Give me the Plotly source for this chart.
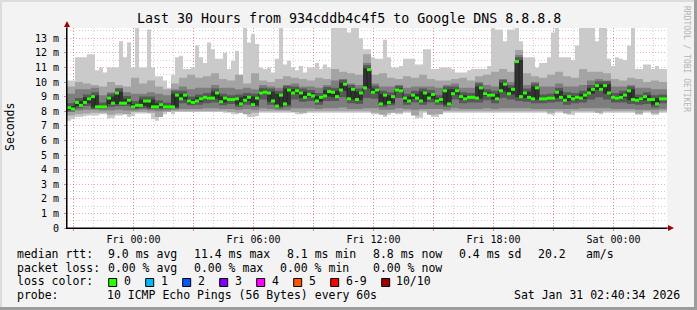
import plotly.graph_objects as go
from datetime import datetime, timedelta

# ---------------- data ----------------
START = "2026-01-29 20:40:34"
SPAN_MIN = 1800  # 30 hours

# median rtt (ms), 150 steps of 12 min
median = [8.25, 8.15, 8.6, 8.4, 8.6, 8.85, 9.0, 8.3, 8.3, 8.3,
          8.9, 8.55, 9.25, 8.55, 8.55, 8.75, 8.3, 8.4, 8.4, 8.7,
          8.7, 8.3, 8.3, 8.45, 8.3, 8.3, 8.3, 9.1, 8.85, 9.1,
          8.7, 8.6, 8.7, 8.85, 8.95, 8.9, 8.9, 9.25, 8.65, 8.9,
          8.8, 8.8, 8.85, 8.5, 8.75, 8.95, 8.45, 8.9, 9.25, 9.3,
          9.25, 8.7, 8.35, 9.1, 8.5, 9.45, 9.25, 9.4, 9.25, 8.95,
          9.15, 9.05, 8.7, 8.95, 9.05, 9.35, 9.3, 9.0, 9.45, 9.85,
          8.85, 9.5, 8.8, 9.25, 9.6, 10.85, 9.3, 9.45, 8.5, 9.1,
          8.6, 9.0, 9.45, 9.4, 8.9, 8.7, 9.1, 8.9, 8.7, 9.25,
          8.9, 9.15, 8.7, 8.8, 9.4, 8.5, 9.2, 9.4, 9.0, 8.85,
          8.95, 8.95, 8.9, 9.6, 9.2, 9.1, 9.1, 8.85, 9.4, 9.85,
          9.2, 9.5, 11.4, 9.0, 9.25, 8.95, 8.85, 9.6, 8.85, 8.85,
          8.9, 8.9, 9.3, 8.95, 8.75, 9.0, 8.85, 8.95, 8.9, 9.1,
          9.25, 9.5, 9.75, 9.5, 9.75, 9.25, 8.95, 8.9, 8.95, 9.1,
          9.4, 8.8, 8.75, 8.85, 9.0, 8.8, 8.8, 8.5, 8.85, 8.85]

# slowest ping (ms), 150 steps
ping_max = [10.1, 10.1, 11.7, 11.7, 11.7, 11.9, 11.9, 10.8, 11.0, 10.65,
            11.0, 11.0, 11.0, 12.8, 11.7, 12.7, 11.0, 13.75, 11.0, 11.0,
            13.6, 11.0, 10.4, 10.4, 10.1, 9.6, 10.5, 11.7, 11.8, 10.9,
            10.9, 11.0, 12.5, 11.7, 11.3, 12.7, 12.25, 11.6, 11.6, 12.0,
            10.9, 11.45, 12.15, 10.1, 13.75, 12.7, 13.3, 12.6, 11.0, 10.9,
            11.0, 10.65, 11.6, 13.75, 11.2, 11.45, 11.0, 10.8, 11.1, 10.65,
            11.0, 11.0, 11.3, 10.9, 11.2, 11.0, 13.75, 13.75, 13.75, 13.75,
            13.4, 13.75, 13.75, 13.0, 12.25, 12.25, 11.7, 11.6, 11.6, 12.9,
            11.7, 11.0, 11.0, 11.1, 11.6, 11.6, 11.6, 11.2, 11.2, 12.25,
            12.25, 10.9, 10.9, 11.0, 11.0, 11.0, 10.9, 10.65, 10.65, 10.65,
            10.8, 10.9, 10.9, 10.9, 10.9, 11.1, 13.75, 13.6, 13.6, 12.8,
            13.6, 13.6, 13.75, 12.8, 11.7, 11.7, 11.7, 11.0, 11.3, 11.3,
            11.7, 13.4, 13.75, 11.7, 11.7, 11.7, 11.5, 12.5, 13.75, 13.75,
            13.75, 13.75, 12.8, 13.75, 13.75, 11.6, 11.1, 11.7, 11.6, 11.5,
            12.5, 13.75, 10.9, 10.9, 11.2, 11.2, 10.9, 11.1, 10.9, 10.9]

# fastest ping (ms), 150 steps
ping_min = [7.35, 7.45, 7.6, 7.6, 7.65, 7.7, 7.7, 7.7, 7.8, 7.8,
            7.5, 7.55, 7.7, 7.7, 7.8, 7.6, 7.65, 7.85, 7.85, 7.85,
            7.85, 7.45, 7.35, 7.8, 7.8, 7.95, 7.8, 7.95, 7.95, 7.95,
            7.95, 7.95, 7.95, 7.95, 7.95, 7.95, 7.95, 7.95, 7.95, 7.9,
            7.9, 7.8, 7.8, 7.9, 7.9, 7.6, 7.6, 7.65, 7.9, 7.9,
            7.9, 7.9, 7.9, 7.9, 7.9, 7.9, 7.9, 7.8, 7.8, 7.85,
            7.9, 7.9, 7.9, 7.9, 7.9, 7.9, 7.9, 7.9, 7.9, 7.9,
            7.9, 7.9, 7.9, 7.9, 7.9, 7.9, 7.8, 7.8, 7.8, 7.6,
            7.75, 7.9, 7.8, 7.8, 7.9, 7.9, 7.9, 7.5, 7.55, 7.9,
            7.9, 7.6, 7.6, 7.9, 7.9, 7.9, 7.9, 7.9, 7.9, 7.9,
            7.9, 7.9, 7.9, 7.9, 7.9, 7.9, 7.9, 7.9, 7.9, 7.9,
            7.9, 7.9, 7.9, 7.9, 7.9, 7.9, 7.9, 7.9, 7.9, 7.9,
            7.8, 7.75, 7.9, 7.9, 7.9, 7.75, 7.75, 7.9, 7.9, 7.9,
            7.9, 7.9, 7.9, 7.8, 7.9, 7.9, 7.9, 7.9, 7.9, 7.9,
            7.9, 7.9, 7.75, 7.75, 7.9, 7.9, 7.75, 7.75, 7.9, 7.9]

# inner pings (ms), 75 steps of 24 min
ping_2 = [7.7, 7.8, 7.85, 7.9, 7.9, 7.75, 7.85, 7.8, 7.95, 7.95, 7.9, 7.6, 7.95,
          8.0, 8.0, 8.0, 8.0, 8.0, 8.0, 8.0, 7.95, 7.9, 7.8, 7.9, 8.0, 8.0,
          8.0, 8.0, 7.95, 7.9, 8.0, 8.0, 8.0, 8.0, 8.0, 8.0, 8.0, 8.0,
          7.9, 7.75, 7.9, 7.9, 8.0, 7.7, 8.0, 7.75, 7.8, 8.0, 8.0, 8.0, 8.0, 8.0,
          8.0, 8.0, 8.0, 8.0, 8.0, 8.0, 8.0, 8.0, 7.9, 8.0, 7.85,
          8.0, 8.0, 8.0, 7.9, 8.0, 8.0, 8.0, 8.0, 7.85, 8.0, 7.85, 8.0]
ping_9 = [9.7, 10.0, 9.9, 9.8, 9.7, 10.0, 9.8, 9.7, 10.3, 9.9, 10.1, 9.7, 9.5,
          9.9, 10.3, 10.5, 10.3, 10.4, 10.6, 10.2, 10.1, 10.5, 9.9, 10.6, 10.1, 10.0,
          10.2, 10.4, 10.3, 10.2, 10.1, 10.3, 10.2, 10.9, 10.7, 10.6, 10.5, 11.9,
          10.5, 10.6, 10.3, 10.2, 10.4, 10.3, 10.5, 10.2, 10.1, 10.1, 10.2, 10.3, 10.1, 10.4,
          10.5, 10.7, 10.9, 10.7, 12.2, 10.6, 10.4, 10.3, 10.5, 10.7, 10.4,
          10.3, 10.9, 10.7, 10.7, 10.6, 10.2, 10.1, 10.3, 10.2, 10.0, 10.1, 10.0]
ping_3 = [7.95, 8.05, 8.1, 8.1, 8.05, 8.05, 8.1, 8.05, 8.05, 8.1, 8.05, 8.0, 8.05,
          8.1, 8.15, 8.15, 8.15, 8.2, 8.2, 8.15, 8.15, 8.1, 8.15, 8.1, 8.2, 8.15,
          8.1, 8.1, 8.2, 8.2, 8.2, 8.15, 8.2, 8.2, 8.25, 8.15, 8.15, 8.2,
          8.2, 8.1, 8.1, 8.2, 8.15, 8.1, 8.15, 8.15, 8.15, 8.1, 8.2, 8.15, 8.15, 8.15,
          8.2, 8.15, 8.2, 8.2, 8.2, 8.2, 8.15, 8.15, 8.15, 8.15, 8.15,
          8.15, 8.2, 8.2, 8.2, 8.2, 8.15, 8.15, 8.15, 8.1, 8.1, 8.1, 8.15]
ping_8 = [9.2, 9.5, 9.5, 9.6, 9.1, 9.3, 9.6, 9.3, 9.2, 9.2, 9.3, 9.2, 9.1,
          9.5, 9.7, 9.5, 9.6, 9.6, 9.8, 9.6, 9.6, 9.5, 9.6, 9.5, 9.8, 9.7,
          9.6, 9.8, 9.9, 9.7, 9.7, 9.6, 9.8, 10.1, 10.2, 9.9, 9.8, 11.3,
          9.9, 9.7, 9.7, 9.8, 9.6, 9.7, 9.7, 9.7, 9.6, 9.8, 9.9, 9.6, 9.6, 10.0,
          9.8, 9.7, 10.2, 10.0, 11.85, 9.8, 10.0, 9.7, 9.7, 9.9, 9.7,
          9.7, 9.8, 10.1, 10.2, 10.1, 9.7, 9.7, 9.8, 9.6, 9.6, 9.5, 9.5]
ping_4 = [8.0, 8.2, 8.35, 8.15, 8.15, 8.3, 8.35, 8.35, 8.15, 8.2, 8.15, 8.15, 8.15,
          8.2, 8.55, 8.4, 8.45, 8.55, 8.6, 8.4, 8.5, 8.3, 8.45, 8.3, 8.8, 8.45,
          8.2, 8.3, 8.8, 8.65, 8.7, 8.45, 8.7, 8.7, 8.95, 8.55, 8.5, 8.9,
          8.85, 8.3, 8.4, 8.9, 8.45, 8.6, 8.45, 8.6, 8.45, 8.3, 8.8, 8.55, 8.6, 8.6,
          8.75, 8.55, 8.9, 8.8, 8.7, 8.65, 8.55, 8.55, 8.6, 8.65, 8.45,
          8.55, 8.6, 8.8, 8.95, 8.8, 8.6, 8.6, 8.5, 8.45, 8.5, 8.25, 8.55]
ping_7 = [8.55, 8.9, 9.15, 9.3, 8.6, 9.2, 9.55, 9.05, 8.7, 9.0, 9.0, 8.75, 8.6,
          9.4, 9.4, 9.0, 9.15, 9.25, 9.55, 9.2, 9.1, 9.15, 9.25, 9.2, 9.6, 9.55,
          9.4, 9.75, 9.7, 9.55, 9.45, 9.25, 9.65, 9.6, 10.15, 9.8, 9.55, 11.15,
          9.75, 9.4, 9.3, 9.75, 9.2, 9.4, 9.55, 9.45, 9.1, 9.7, 9.7, 9.3, 9.25, 9.9,
          9.5, 9.4, 10.15, 9.8, 11.7, 9.55, 9.9, 9.15, 9.2, 9.6, 9.3,
          9.25, 9.4, 9.8, 10.05, 10.05, 9.25, 9.4, 9.7, 9.15, 9.3, 9.1, 9.15]
ping_5 = [8.1, 8.35, 8.55, 8.25, 8.25, 8.5, 8.5, 8.5, 8.25, 8.35, 8.25, 8.25, 8.25,
          8.25, 8.8, 8.55, 8.65, 8.85, 8.85, 8.6, 8.75, 8.45, 8.7, 8.4, 9.2, 8.65,
          8.3, 8.45, 9.2, 8.9, 9.0, 8.65, 9.0, 8.95, 9.4, 8.8, 8.75, 9.55,
          9.25, 8.45, 8.55, 9.35, 8.65, 8.85, 8.65, 8.85, 8.65, 8.45, 9.15, 8.8, 8.9, 8.85,
          9.05, 8.8, 9.35, 9.15, 8.95, 8.9, 8.8, 8.8, 8.85, 8.9, 8.7,
          8.8, 8.85, 9.2, 9.45, 9.2, 8.85, 8.9, 8.75, 8.7, 8.75, 8.45, 8.8]
ping_6 = [8.35, 8.7, 8.95, 9.1, 8.4, 9.0, 9.35, 8.85, 8.5, 8.8, 8.8, 8.55, 8.4,
          9.2, 9.2, 8.8, 8.95, 9.05, 9.35, 9.0, 8.9, 8.95, 9.05, 9.0, 9.4, 9.35,
          9.2, 9.55, 9.5, 9.35, 9.25, 9.05, 9.45, 9.4, 9.95, 9.6, 9.35, 10.95,
          9.55, 9.2, 9.1, 9.55, 9.0, 9.2, 9.35, 9.25, 8.9, 9.5, 9.5, 9.1, 9.05, 9.7,
          9.3, 9.2, 9.95, 9.6, 11.5, 9.35, 9.7, 8.95, 9.0, 9.4, 9.1,
          9.05, 9.2, 9.6, 9.85, 9.85, 9.05, 9.2, 9.5, 8.95, 9.1, 8.9, 8.95]

y_ticks = list(range(14))
y_tick_text = ["0"] + [f"{v} m" for v in range(1, 14)]

loss_labels = ["0", "1", "2", "3", "4", "5", "6-9", "10/10"]
loss_colors = ["#26ff00", "#00b8ff", "#0059ff", "#7e00ff", "#ff00ff", "#ff5500", "#ff0000", "#a00000"]

title = "Last 30 Hours from 934cddb4c4f5 to Google DNS 8.8.8.8"
stats_rtt = ["median rtt:", "9.0 ms avg", "11.4 ms max", "8.1 ms min", "8.8 ms now", "0.4 ms sd", "20.2", "am/s"]
stats_loss = ["packet loss:", "0.00 % avg", "0.00 % max", "0.00 % min", "0.00 % now"]
probe_text = ["probe:", "10 ICMP Echo Pings (56 Bytes) every 60s"]
stamp = "Sat Jan 31 02:40:34 2026"

# ---------------- layout geometry ----------------
W, H = 697, 310
ML, MR, MT, MB = 67, 30, 28, 82
PW, PH = W - ML - MR, H - MT - MB
YMAX = 13.70

def px(x):
    return (x - ML) / PW

def py(y):
    return (H - MB - y) / PH

t0 = datetime.strptime(START, "%Y-%m-%d %H:%M:%S")
t1 = t0 + timedelta(minutes=SPAN_MIN)

def step_times(n):
    step = SPAN_MIN / n
    return [t0 + timedelta(minutes=step * i) for i in range(n + 1)]

fig = go.Figure()

def band(lo, hi, color):
    xs = step_times(len(lo))
    fig.add_trace(go.Scatter(x=xs, y=lo + [lo[-1]], mode="lines",
                             line=dict(width=0, shape="hv", color=color),
                             hoverinfo="skip", showlegend=False))
    fig.add_trace(go.Scatter(x=xs, y=hi + [hi[-1]], mode="lines",
                             line=dict(width=0, shape="hv", color=color),
                             fill="tonexty", fillcolor=color,
                             hoverinfo="skip", showlegend=False))

band(ping_min, ping_max, "#cacaca")
band(ping_2, ping_9, "#a4a4a4")
band(ping_3, ping_8, "#7e7e7e")
band(ping_4, ping_7, "#585858")
band(ping_5, ping_6, "#323232")

mt = step_times(len(median))
fig.add_trace(go.Scatter(x=mt, y=median + [median[-1]], mode="lines",
                         line=dict(width=1, shape="hv", color="#202020"),
                         hoverinfo="skip", showlegend=False))
gx, gy = [], []
for i, v in enumerate(median):
    gx += [mt[i], mt[i + 1], None]
    gy += [v, v, None]
fig.add_trace(go.Scatter(x=gx, y=gy, mode="lines",
                         line=dict(width=3, color=loss_colors[0]),
                         hoverinfo="skip", showlegend=False))

# time grid
first3 = t0.replace(minute=0, second=0) + timedelta(hours=1)
while first3.hour % 3:
    first3 += timedelta(hours=1)
major = []
t = first3
while t <= t1:
    major.append(t)
    t += timedelta(hours=3)
major_text = [m.strftime("%a %H:%M") if m.hour % 6 == 0 else "" for m in major]
minor = []
t = t0.replace(minute=0, second=0) + timedelta(hours=1)
while t <= t1:
    minor.append(t)
    t += timedelta(hours=1)

MONO = "DejaVu Sans Mono"
MAJ = "rgba(235,60,60,0.45)"
MIN = "rgba(150,150,150,0.45)"
DASH = "1px,2px"

fig.update_xaxes(type="date", range=[t0, t1], tickmode="array", tickvals=major,
                 ticktext=major_text, showgrid=True, gridcolor=MAJ, griddash=DASH,
                 gridwidth=1, ticks="outside", ticklen=2, tickcolor="#e08080",
                 tickfont=dict(family=MONO, size=10, color="#000"),
                 showline=True, linecolor="#000", linewidth=1, zeroline=False,
                 minor=dict(tickmode="array", tickvals=minor, showgrid=True,
                            gridcolor=MIN, griddash=DASH, ticks=""),
                 fixedrange=True)
fig.update_yaxes(range=[0, YMAX], tickmode="array", tickvals=y_ticks,
                 ticktext=y_tick_text, showgrid=True, gridcolor=MAJ, griddash=DASH,
                 ticks="outside", ticklen=2, tickcolor="#e08080",
                 tickfont=dict(family=MONO, size=10, color="#000"),
                 ticklabelstandoff=3,
                 showline=True, linecolor="#000", linewidth=1, zeroline=False,
                 minor=dict(tickvals=[v + 0.5 for v in range(14)], showgrid=True,
                            gridcolor=MIN, griddash=DASH, ticks=""),
                 fixedrange=True)

shapes = []
ARROW = "#a00000"
shapes.append(dict(type="line", xref="paper", yref="paper", x0=px(ML), x1=px(ML),
                   y0=py(228), y1=py(25), line=dict(color="#000", width=1)))
shapes.append(dict(type="path", xref="paper", yref="paper",
                   path=f"M {px(64)} {py(27)} L {px(70)} {py(27)} L {px(67)} {py(21)} Z",
                   fillcolor=ARROW, line=dict(color=ARROW, width=0)))
shapes.append(dict(type="line", xref="paper", yref="paper", x0=px(ML), x1=px(669),
                   y0=py(228), y1=py(228), line=dict(color="#000", width=1)))
shapes.append(dict(type="path", xref="paper", yref="paper",
                   path=f"M {px(668)} {py(225)} L {px(668)} {py(231)} L {px(674)} {py(228)} Z",
                   fillcolor=ARROW, line=dict(color=ARROW, width=0)))
# frame
shapes.append(dict(type="rect", xref="paper", yref="paper", x0=px(0), x1=px(W),
                   y0=py(H - 3), y1=py(H), fillcolor="#9c9c9c", line=dict(width=0), layer="above"))
shapes.append(dict(type="rect", xref="paper", yref="paper", x0=px(W - 3), x1=px(W),
                   y0=py(H), y1=py(0), fillcolor="#9c9c9c", line=dict(width=0), layer="above"))
shapes.append(dict(type="rect", xref="paper", yref="paper", x0=px(0), x1=px(W - 3),
                   y0=py(2), y1=py(0), fillcolor="#dcdcdc", line=dict(width=0), layer="above"))
shapes.append(dict(type="rect", xref="paper", yref="paper", x0=px(0), x1=px(2),
                   y0=py(H - 3), y1=py(0), fillcolor="#dcdcdc", line=dict(width=0), layer="above"))
# loss colour boxes
box_x = [108.7, 145.7, 182.7, 219.7, 256.7, 293.7, 330.7, 381.7]
for bx, c in zip(box_x, loss_colors):
    shapes.append(dict(type="rect", xref="paper", yref="paper", x0=px(bx), x1=px(bx + 8),
                       y0=py(286.5), y1=py(278.5), fillcolor=c,
                       line=dict(color="#000", width=1)))

ann = []
def text(x, y, s, size=11.5, anchor="left", color="#000", angle=0):
    ann.append(dict(x=px(x), y=py(y), xref="paper", yref="paper", text=s, showarrow=False,
                    xanchor=anchor, yanchor="middle", borderpad=0, textangle=angle,
                    font=dict(family=MONO, size=size, color=color)))

text(348.5, 18.5, title, size=13.3, anchor="center")
text(10, 127, "Seconds", size=11.5, anchor="center", angle=-90)
text(687, 59, "RRDTOOL / TOBI OETIKER", size=8, anchor="center", color="#b4b4b4", angle=90)

rtt_x = [15.5, 106.8, 192.8, 286.2, 371.8, 457.8, 536.6, 585.2]
for x, s in zip(rtt_x, stats_rtt):
    text(x, 254.3, s)
loss_x = [15.5, 106.8, 193.0, 278.8, 371.8]
for x, s in zip(loss_x, stats_loss):
    text(x, 267.7, s)
text(15.5, 281.3, "loss color:")
lab_x = [123.0, 160.0, 197.0, 234.0, 270.8, 308.0, 345.0, 395.4]
for x, s in zip(lab_x, loss_labels):
    text(x, 281.3, s)
text(15.5, 294.7, probe_text[0])
text(106.0, 294.7, probe_text[1])
text(680.5, 294.7, stamp, anchor="right")

fig.update_layout(width=W, height=H, margin=dict(l=ML, r=MR, t=MT, b=MB, pad=0),
                  paper_bgcolor="#f3f3f3", plot_bgcolor="#ffffff",
                  showlegend=False, shapes=shapes, annotations=ann,
                  hovermode=False)

fig.write_html("out.html", config={"displayModeBar": False})
